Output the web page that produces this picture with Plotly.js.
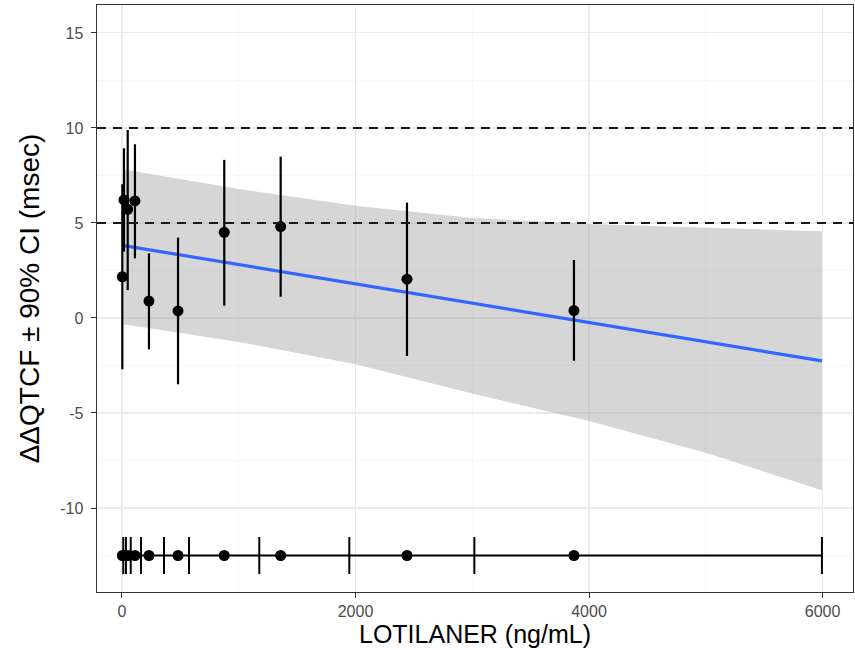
<!DOCTYPE html>
<html>
<head>
<meta charset="utf-8">
<script src="https://cdn.plot.ly/plotly-3.0.1.min.js"></script>
<style>html,body{margin:0;padding:0;background:#fff;}#chart{width:855px;height:650px;}</style>
</head>
<body>
<div id="chart"></div>
<script>
// Binned concentration means (ng/mL) and ΔΔQTcF with 90% CI
const concX   = [3, 17, 49, 111, 231, 480, 876, 1359, 2441, 3871];
const ddqtc   = [2.17, 6.21, 5.72, 6.16, 0.89, 0.37, 4.51, 4.81, 2.04, 0.39];
const ciLow   = [-2.70, 3.49, 1.47, 3.14, -1.65, -3.49, 0.65, 1.12, -2.00, -2.25];
const ciHigh  = [7.04, 8.93, 9.89, 9.14, 3.40, 4.23, 8.32, 8.49, 6.07, 3.05];

// Linear model fit and its confidence band
const fitX    = [15, 5995];
const fitY    = [3.81, -2.26];
const bandX   = [15, 1000, 2000, 3000, 4000, 5000, 5995];
const bandHi  = [7.81, 6.79, 5.91, 5.26, 4.95, 4.74, 4.56];
const bandLo  = [-0.33, -1.26, -2.44, -3.98, -5.42, -7.09, -9.07];

// Concentration bin boundaries shown on the bottom strip
const binEdges = [11, 34, 75, 163, 360, 574, 1176, 1947, 3018, 5995];
const stripY   = -12.5;

// Axis ticks and reference thresholds
const xTicks = [0, 2000, 4000, 6000];
const yTicks = [-10, -5, 0, 5, 10, 15];
const refLines = [5, 10];

const polyX = bandX.concat(bandX.slice().reverse());
const polyY = bandHi.concat(bandLo.slice().reverse());

const traces = [
  {x: polyX, y: polyY, type: 'scatter', mode: 'lines', fill: 'toself',
   fillcolor: 'rgba(153,153,153,0.4)', line: {width: 0}, hoverinfo: 'skip', showlegend: false},
  {x: fitX, y: fitY, type: 'scatter', mode: 'lines',
   line: {color: '#3366FF', width: 3.2}, showlegend: false},
  {x: [binEdges[0], binEdges[binEdges.length - 1]], y: [stripY, stripY], type: 'scatter', mode: 'lines',
   line: {color: '#000', width: 2.2}, showlegend: false},
  {x: binEdges, y: binEdges.map(() => stripY), type: 'scatter', mode: 'markers',
   marker: {symbol: 'line-ns-open', size: 26.5, color: '#000', line: {color: '#000', width: 2}}, showlegend: false},
  {x: concX, y: concX.map(() => stripY), type: 'scatter', mode: 'markers',
   marker: {size: 11, color: '#000'}, showlegend: false},
  {x: concX, y: ddqtc, type: 'scatter', mode: 'markers',
   marker: {size: 11, color: '#000'},
   error_y: {type: 'data', symmetric: false,
             array: ddqtc.map((v, i) => ciHigh[i] - v),
             arrayminus: ddqtc.map((v, i) => v - ciLow[i]),
             width: 0, thickness: 2.2, color: '#000'},
   showlegend: false}
];

const shapes = refLines.map(v => ({
  type: 'line', xref: 'paper', x0: 0, x1: 1, yref: 'y', y0: v, y1: v,
  line: {color: '#1a1a1a', width: 2, dash: '9px,7px'}
}));

const font = 'Liberation Sans, Arial, Helvetica, sans-serif';
const layout = {
  width: 855, height: 650,
  margin: {l: 97, r: 2, t: 5, b: 58},
  paper_bgcolor: '#fff', plot_bgcolor: '#fff',
  font: {family: font, color: '#000'},
  showlegend: false,
  shapes: shapes,
  xaxis: {
    range: [-214, 6261], tickvals: xTicks, ticktext: xTicks.map(String),
    showgrid: true, gridcolor: '#EBEBEB', gridwidth: 1.1,
    minor: {tickvals: [1000, 3000, 5000], showgrid: true, gridcolor: '#F2F2F2', gridwidth: 0.6, ticks: ''},
    zeroline: false, showline: true, mirror: true, linecolor: '#333', linewidth: 1,
    ticks: 'outside', ticklen: 5, tickwidth: 1, tickcolor: '#333',
    tickfont: {size: 16, color: '#4D4D4D'},
    title: {text: 'LOTILANER (ng/mL)', font: {size: 25, color: '#000'}, standoff: 3}
  },
  yaxis: {
    range: [-14.42, 16.47], tickvals: yTicks, ticktext: yTicks.map(v => String(v) + '\u00A0'),
    showgrid: true, gridcolor: '#EBEBEB', gridwidth: 1.1,
    minor: {tickvals: [-12.5, -7.5, -2.5, 2.5, 7.5, 12.5], showgrid: true, gridcolor: '#F2F2F2', gridwidth: 0.6, ticks: ''},
    zeroline: false, showline: true, mirror: true, linecolor: '#333', linewidth: 1,
    ticks: 'outside', ticklen: 5, tickwidth: 1, tickcolor: '#333',
    tickfont: {size: 16, color: '#4D4D4D'},
    title: {text: 'ΔΔQTCF ± 90% CI (msec)', font: {size: 28, color: '#000'}, standoff: 12}
  }
};

Plotly.newPlot('chart', traces, layout, {displayModeBar: false, staticPlot: true});
</script>
</body>
</html>
